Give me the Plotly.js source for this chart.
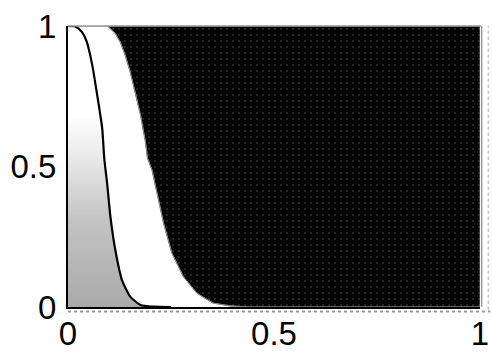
<!DOCTYPE html>
<html>
<head>
<meta charset="utf-8">
<script src="https://cdn.plot.ly/plotly-3.0.1.min.js"></script>
<style>html,body{margin:0;padding:0;background:#fff;}#chart{width:492px;height:352px;}</style>
</head>
<body>
<div id="chart"></div>
<script>
// Solid curve (left, black line) with stippled fill below
const solidX = [0, 0.018, 0.034, 0.046, 0.059, 0.071, 0.083, 0.088, 0.095, 0.103, 0.115, 0.131, 0.151, 0.176, 0.207, 0.25];
const solidY = [1, 0.998, 0.978, 0.942, 0.860, 0.753, 0.636, 0.529, 0.440, 0.321, 0.202, 0.096, 0.037, 0.007, 0.001, 0];
// Boundary of the dark region (right curve)
const edgeX = [0, 0.096, 0.115, 0.127, 0.139, 0.151, 0.163, 0.176, 0.188, 0.193, 0.204, 0.216, 0.232, 0.252, 0.280, 0.313, 0.352, 0.393, 0.442, 1];
const edgeY = [1, 1, 0.973, 0.942, 0.895, 0.836, 0.765, 0.683, 0.587, 0.529, 0.487, 0.405, 0.298, 0.192, 0.108, 0.049, 0.014, 0.004, 0, 0];
const xTicks = [0, 0.5, 1];
const yTicks = [0, 0.5, 1];
const xTickText = ['0', '0.5', '1'];
const yTickText = ['0', '0.5', '1'];

// dark region polygon: boundary then up the right side back to the top
const darkX = edgeX.slice(1).concat([1, 0.096]);
const darkY = edgeY.slice(1).concat([1, 1]);

const traces = [
  {
    x: solidX, y: solidY, type: 'scatter', mode: 'lines',
    fill: 'tozeroy',
    fillgradient: {type: 'vertical', start: 0, stop: 1,
      colorscale: [[0, '#aaaaaa'], [0.3, '#c2c2c2'], [0.55, '#ececec'], [0.68, '#ffffff'], [1, '#ffffff']]},
    line: {color: 'rgba(0,0,0,0)', width: 0},
    hoverinfo: 'skip', showlegend: false
  },
  {
    x: darkX, y: darkY, type: 'scatter', mode: 'lines',
    fill: 'toself', fillcolor: '#060606',
    fillpattern: {shape: '.', bgcolor: '#040404', fgcolor: '#2c2c2c', size: 6, solidity: 0.1},
    line: {color: '#777', width: 1},
    hoverinfo: 'skip', showlegend: false
  },
  {
    x: edgeX, y: edgeY, type: 'scatter', mode: 'lines',
    line: {color: '#888', width: 1},
    cliponaxis: false, hoverinfo: 'skip', showlegend: false
  },
  {
    x: solidX, y: solidY, type: 'scatter', mode: 'lines',
    line: {color: '#000', width: 2.2, shape: 'spline', smoothing: 0.6},
    cliponaxis: false, hoverinfo: 'skip', showlegend: false
  }
];

const layout = {
  width: 492, height: 352,
  margin: {l: 67.5, r: 11.5, t: 25.5, b: 45, pad: 0},
  paper_bgcolor: '#fff', plot_bgcolor: '#fff',
  showlegend: false,
  font: {family: 'Liberation Sans, Arial, sans-serif', color: '#000', size: 33},
  xaxis: {
    range: [0, 1], tickvals: xTicks, ticktext: xTickText,
    showgrid: false, zeroline: false, showline: true, linecolor: '#000', linewidth: 2,
    ticks: '', ticklabelstandoff: -4, tickfont: {size: 33}
  },
  yaxis: {
    range: [0, 1], tickvals: yTicks, ticktext: yTickText,
    showgrid: false, zeroline: false, showline: true, linecolor: '#000', linewidth: 2,
    ticks: '', ticklabelstandoff: 3, tickfont: {size: 33}
  },
  shapes: [
    {type: 'line', xref: 'paper', yref: 'paper', x0: 0, x1: 1.003, y0: 1, y1: 1, line: {color: '#999', width: 1.5}},
    {type: 'line', xref: 'paper', yref: 'paper', x0: 1.004, x1: 1.004, y0: 0, y1: 1, line: {color: '#999', width: 1.5}},
    {type: 'line', xref: 'paper', yref: 'paper', x0: 1.02, x1: 1.02, y0: -0.01, y1: 1, line: {color: '#aaa', width: 1, dash: 'dot'}},
    {type: 'line', xref: 'paper', yref: 'paper', x0: 0, x1: 1.025, y0: -0.016, y1: -0.016, line: {color: '#999', width: 2, dash: 'dot'}}
  ]
};

Plotly.newPlot('chart', traces, layout, {displayModeBar: false, staticPlot: true});
</script>
</body>
</html>
